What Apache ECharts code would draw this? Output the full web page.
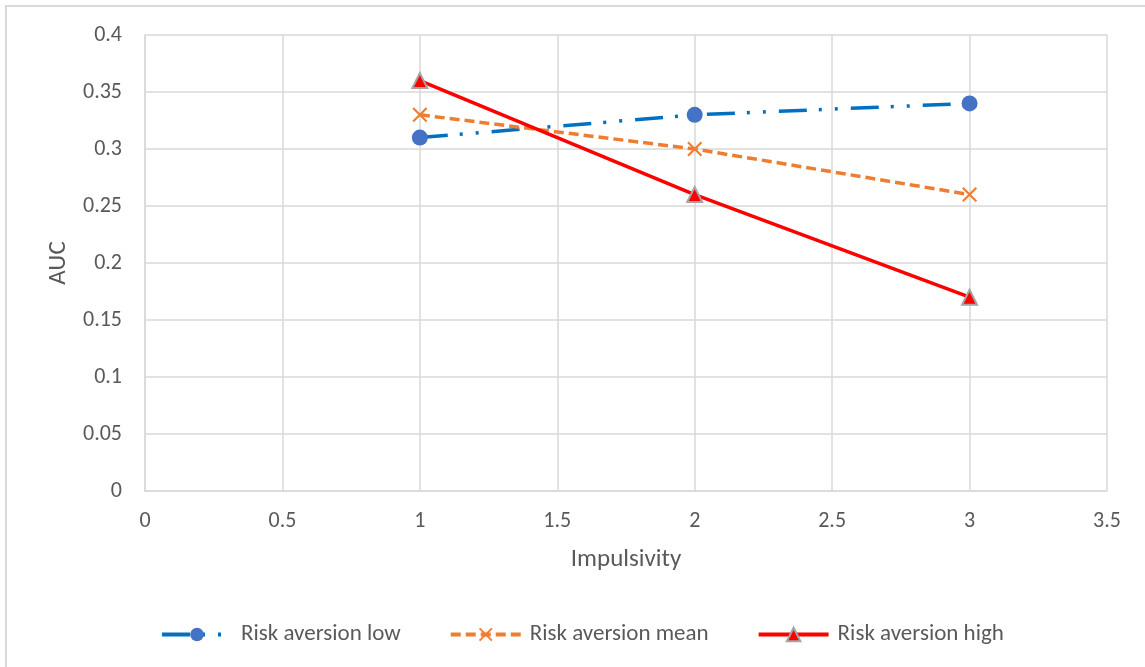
<!DOCTYPE html>
<html lang="en">
<head>
    <meta charset="UTF-8">
    <title>AUC by impulsivity</title>
    <script src="https://cdn.jsdelivr.net/npm/echarts@6/dist/echarts.min.js"></script>
    <style>
        html, body { margin: 0; padding: 0; background: #fff; }
        #main { width: 1145px; height: 667px; }
    </style>
</head>
<body>
<div id="main"></div>
<script>
    // data
    var impulsivity = [1, 2, 3];
    var riskLow = [0.31, 0.33, 0.34];
    var riskMean = [0.33, 0.30, 0.26];
    var riskHigh = [0.36, 0.26, 0.17];
    var seriesNames = ['Risk aversion low', 'Risk aversion mean', 'Risk aversion high'];

    function pairs(ys) {
        var out = [];
        for (var i = 0; i < impulsivity.length; i++) {
            out.push([impulsivity[i], ys[i]]);
        }
        return out;
    }

    var font = 'Carlito, Calibri, "Open Sans", sans-serif';
    var textColor = '#595959';
    var gridColor = '#D9D9D9';
    // x shaped marker as a filled outline
    var crossPath = 'path://M0,1 L1,0 L5,4 L9,0 L10,1 L6,5 L10,9 L9,10 L5,6 L1,10 L0,9 L4,5 Z';

    var myChart = echarts.init(document.getElementById('main'));
    var option = {
        animation: false,
        backgroundColor: '#fff',
        textStyle: { fontFamily: font },
        graphic: [{
            type: 'rect',
            shape: { x: 6, y: 6, width: 1300, height: 800 },
            style: { fill: 'none', stroke: gridColor, lineWidth: 2 },
            silent: true
        }],
        grid: { left: 145, right: 38, top: 35, bottom: 176 },
        legend: {
            top: 618,
            left: 155,
            itemWidth: 70,
            itemHeight: 17,
            itemGap: 48,
            lineStyle: { width: 4 },
            textStyle: { fontFamily: font, fontSize: 23, color: textColor, padding: [0, 0, 0, 4] },
            data: seriesNames
        },
        xAxis: {
            type: 'value',
            min: 0,
            max: 3.5,
            interval: 0.5,
            name: 'Impulsivity',
            nameLocation: 'middle',
            nameGap: 56,
            nameTextStyle: { fontFamily: font, fontSize: 25, color: textColor },
            axisLine: { lineStyle: { color: gridColor, width: 1.5 } },
            axisTick: { show: false },
            axisLabel: { fontFamily: font, fontSize: 22, color: textColor, margin: 19 },
            splitLine: { lineStyle: { color: gridColor, width: 1.5 } }
        },
        yAxis: {
            type: 'value',
            min: 0,
            max: 0.4,
            interval: 0.05,
            name: 'AUC',
            nameLocation: 'middle',
            nameGap: 74,
            nameTextStyle: { fontFamily: font, fontSize: 25, color: textColor },
            axisLine: { show: true, lineStyle: { color: gridColor, width: 1.5 } },
            axisTick: { show: false },
            axisLabel: { fontFamily: font, fontSize: 22, color: textColor, margin: 23 },
            splitLine: { lineStyle: { color: gridColor, width: 1.5 } }
        },
        series: [
            {
                name: seriesNames[0],
                type: 'line',
                data: pairs(riskLow),
                symbol: 'circle',
                symbolSize: 16,
                itemStyle: { color: '#4472C4' },
                lineStyle: { color: '#0070C0', width: 3.5, type: [28, 12, 3, 13, 3, 13] }
            },
            {
                name: seriesNames[1],
                type: 'line',
                data: pairs(riskMean),
                symbol: crossPath,
                symbolSize: 15,
                itemStyle: { color: '#ED7D31' },
                lineStyle: { color: '#ED7D31', width: 3.5, type: [10, 5] }
            },
            {
                name: seriesNames[2],
                type: 'line',
                data: pairs(riskHigh),
                symbol: 'triangle',
                symbolSize: 15,
                itemStyle: { color: '#FF0000', borderColor: '#A5A5A5', borderWidth: 2 },
                lineStyle: { color: '#FF0000', width: 3.5 }
            }
        ]
    };
    myChart.setOption(option);
</script>
</body>
</html>
